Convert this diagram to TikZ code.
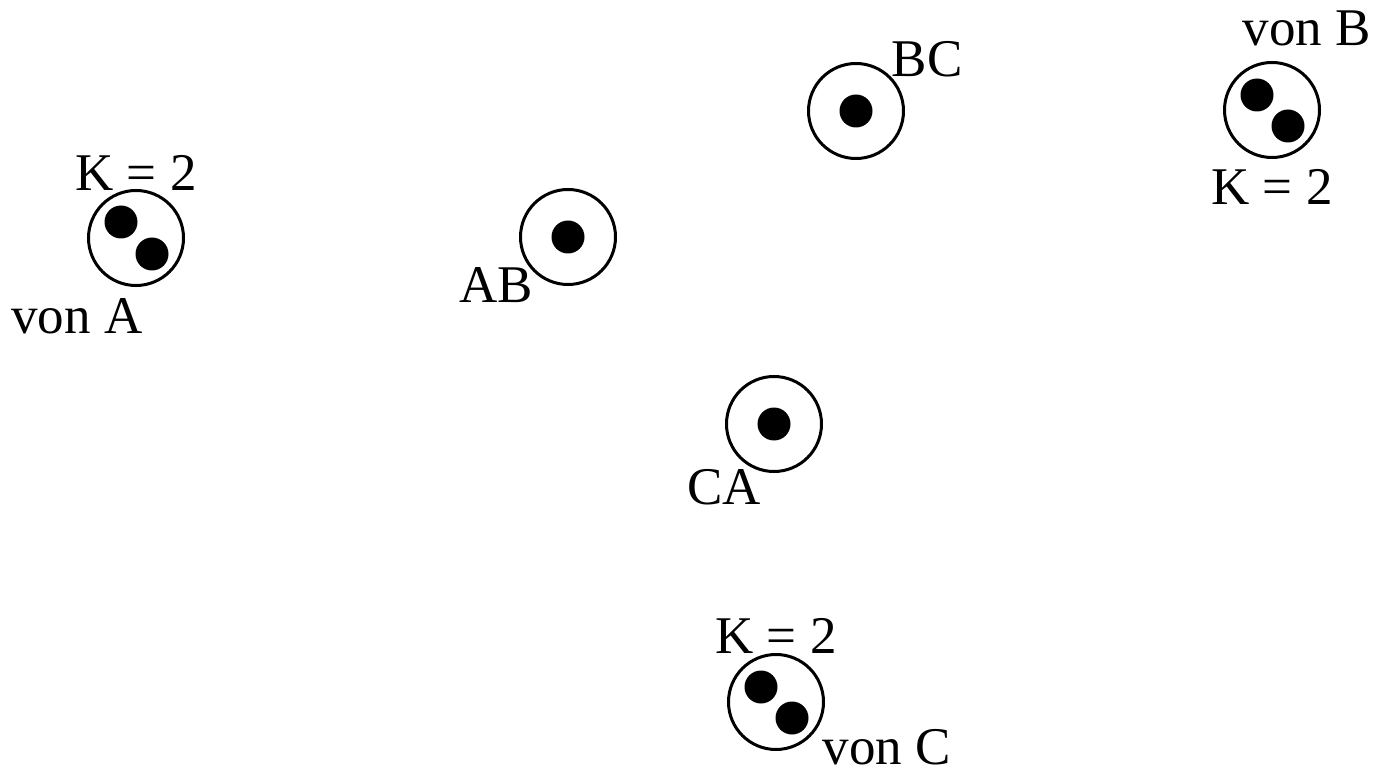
\documentclass[tikz,border=0pt]{standalone}
\usepackage{fontspec}
\setmainfont{Liberation Serif}
\begin{document}
\begin{tikzpicture}[x=1pt,y=-1pt,
  ring/.style={circle,draw,line width=3pt,minimum size=95pt,inner sep=0pt},
  dot/.style={circle,fill=black,minimum size=33pt,inner sep=0pt},
  lbl/.style={inner sep=0pt,anchor=base,font=\fontsize{53}{53}\selectfont}]
\useasboundingbox (0,0) rectangle (1374,767);
% A
\node[ring] (A) at (136,238) {};
\node[dot] (A1) at (121,222) {};
\node[dot] (A2) at (152,254) {};
\node[lbl] (kA) at (136,191) {K = 2};
\node[lbl] (vA) at (77,334) {von A};
% AB
\node[ring] (AB) at (568,237) {};
\node[dot] (AB1) at (568,237) {};
\node[lbl] (lAB) at (496,303) {AB};
% BC
\node[ring] (BC) at (856,111) {};
\node[dot] (BC1) at (856,111) {};
\node[lbl] (lBC) at (927,77) {BC};
% B
\node[ring] (B) at (1272,110) {};
\node[dot] (B1) at (1257,95) {};
\node[dot] (B2) at (1288,126) {};
\node[lbl] (vB) at (1307,46) {von B};
\node[lbl] (kB) at (1272,205) {K = 2};
% CA
\node[ring] (CA) at (774,424) {};
\node[dot] (CA1) at (774,424) {};
\node[lbl] (lCA) at (724,504) {CA};
% C
\node[ring] (C) at (776,702) {};
\node[dot] (C1) at (761,687) {};
\node[dot] (C2) at (792,718) {};
\node[lbl] (kC) at (776,653) {K = 2};
\node[lbl] (vC) at (887,764) {von C};
\end{tikzpicture}
\end{document}
